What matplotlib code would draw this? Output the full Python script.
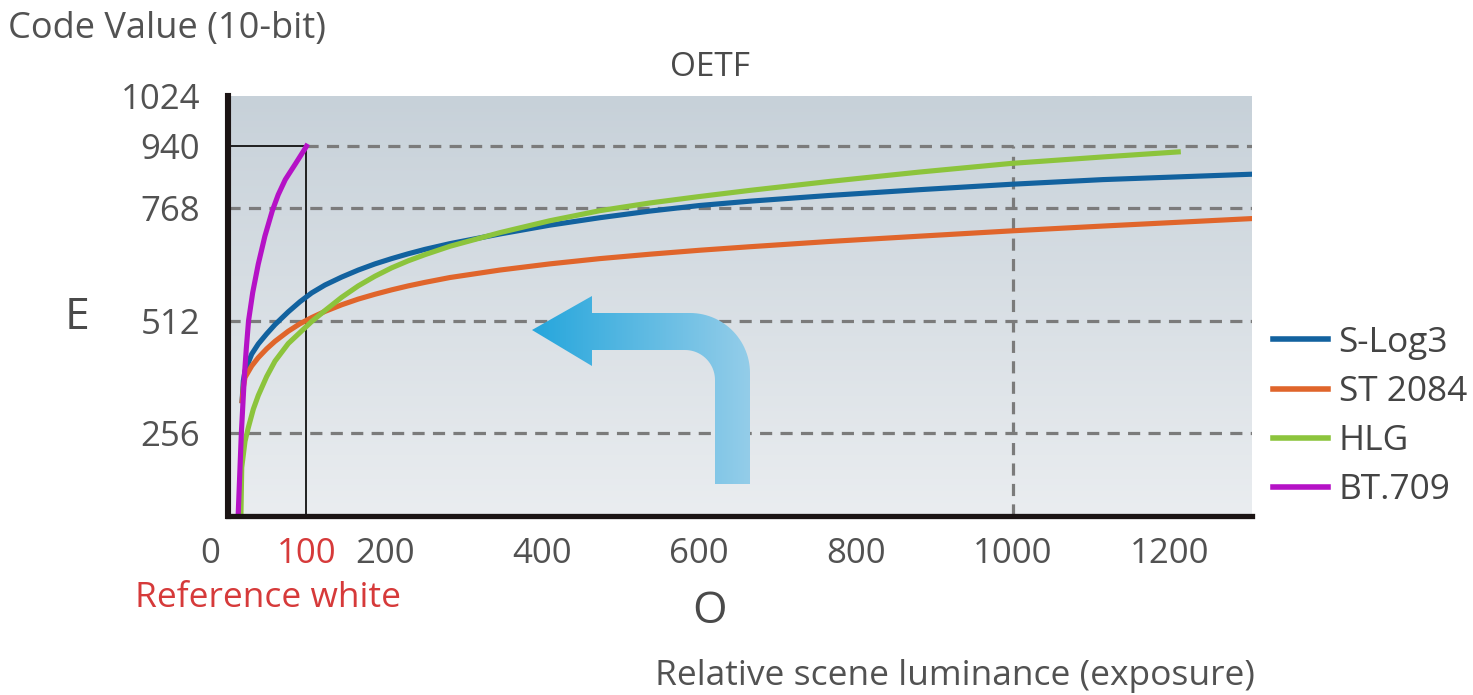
import numpy as np
import matplotlib
matplotlib.use("Agg")
import matplotlib.pyplot as plt
from matplotlib.path import Path
from matplotlib.patches import PathPatch
from matplotlib.transforms import ScaledTranslation

plt.rcParams['font.family'] = ['Open Sans', 'DejaVu Sans']

# ---------------- data ----------------
slog3_x = [18, 19.5, 21.7, 30.2, 38.6, 49.3, 59.9, 76.8, 91.7, 106.6, 123.6, 144.8, 166, 187.3,
           208.5, 229.7, 251, 282.8, 346.5, 410, 474, 537.6, 601, 665, 767, 881.5, 998, 1115, 1305]
slog3_y = [330, 375, 398, 436, 459, 482, 503, 532, 555, 575, 593, 611, 627, 641,
           653, 664, 674, 687, 709, 729, 746, 761, 775, 787, 803, 819, 834, 847, 862]

st2084_x = [18, 19.5, 21.7, 30.2, 38.6, 49.3, 59.9, 76.8, 91.7, 106.6, 123.6, 144.8, 166, 187.3,
            208.5, 229.7, 251, 282.8, 346.5, 410, 474, 537.6, 601, 665, 767, 881.5, 998, 1115, 1305]
st2084_y = [330, 360, 383, 409, 428, 448, 465, 488, 505, 519, 533, 548, 561, 572,
            582, 591, 599, 610, 627, 641, 653, 663, 672, 680, 692, 704, 716, 727, 744]

hlg_x = [16.5, 17.5, 21.7, 25.9, 32.3, 38.6, 49.3, 59.9, 76.8, 91.7, 106.6, 123.6, 144.8, 166,
         187.3, 208.5, 229.7, 251, 282.8, 346.5, 410, 474, 537.6, 601, 665, 767, 881.5, 998, 1115, 1211]
hlg_y = [72, 178, 238, 269, 311, 342, 385, 420, 460, 485, 510, 535, 565, 591,
         613, 632, 648, 662, 681, 712, 739, 762, 782, 800, 817, 842, 868, 892, 910, 924]

bt709_x = [13, 15.3, 17, 20.8, 23.3, 26.2, 31.5, 38.5, 47, 56.5, 64, 73, 86, 97, 100]
bt709_y = [72, 178, 256, 384, 448, 512, 576, 640, 704, 762, 805, 847, 891, 929, 940]

series_names = ['S-Log3', 'ST 2084', 'HLG', 'BT.709']
series_colors = ['#12629f', '#e0652b', '#8cc43c', '#b512c6']

x_ticks = [0, 100, 200, 400, 600, 800, 1000, 1200]
y_ticks = [256, 512, 768, 940, 1024]
ref_white = 100
ref_code = 940
grid_x = 1000

# ---------------- figure ----------------
W, H = 1473, 695
fig = plt.figure(figsize=(W / 100, H / 100), dpi=100)
AX_L, AX_R, AX_T, AX_B = 228, 1252, 96, 516
ax = fig.add_axes([AX_L / W, 1 - AX_B / H, (AX_R - AX_L) / W, (AX_B - AX_T) / H])

# non-uniform vertical scale (top part of the original is compressed)
T = np.array([-1000.0, 768.0, 940.0, 2000.0])
D = np.array([-1000.0, 768.0, 908.6, 908.6 + 1060 * 1.357])
ax.set_yscale('function', functions=(lambda v: np.interp(v, T, D),
                                     lambda d: np.interp(d, D, T)))
ax.set_xlim(0, 1305)
ax.set_ylim(68, 1024)

# background gradient
grad = np.linspace(0, 1, 256).reshape(-1, 1)
top_c = np.array([0xc7, 0xd1, 0xd9]) / 255
bot_c = np.array([0xea, 0xed, 0xf0]) / 255
img = top_c[None, :] * (1 - grad[:, :, None]) + bot_c[None, :] * grad[:, :, None]
img = img.reshape(256, 1, 3)
ax.imshow(img, extent=[0, 1, 0, 1], transform=ax.transAxes, aspect='auto', zorder=0)

# gridlines
gkw = dict(color='#7b7b7b', lw=2.3, linestyle=(0, (3.8, 2.6)), zorder=1)
for yv in [256, 512, 768]:
    ax.axhline(yv, **gkw)
ax.plot([ref_white, 1305], [ref_code, ref_code], **gkw)
ax.plot([grid_x, grid_x], [68, ref_code], **gkw)

# reference white box
ax.plot([0, ref_white, ref_white], [ref_code, ref_code, 68], color='#111111', lw=1.3, zorder=2)

# curves
for xs, ys, name, c in zip([slog3_x, st2084_x, hlg_x, bt709_x],
                           [slog3_y, st2084_y, hlg_y, bt709_y],
                           series_names, series_colors):
    ax.plot(xs, ys, color=c, lw=3.7, label=name, zorder=3, solid_joinstyle='round')

# arrow (decoration, in pixel -> axes fraction)
def arc(cx, cy, r, a0, a1, n=30):
    a = np.radians(np.linspace(a0, a1, n))
    return [(cx + r * np.cos(t), cy - r * np.sin(t)) for t in a]

pts = [(532, 330), (592, 296), (592, 313), (690, 313)]
pts += arc(690, 373, 60, 90, 0)
pts += [(750, 484), (715, 484), (715, 380)]
pts += arc(685, 380, 30, 0, 90)
pts += [(592, 350), (592, 366), (532, 330)]
pts = np.array(pts, dtype=float)
axpts = np.column_stack([(pts[:, 0] - AX_L) / (AX_R - AX_L), (AX_B - pts[:, 1]) / (AX_B - AX_T)])
codes = [Path.MOVETO] + [Path.LINETO] * (len(axpts) - 2) + [Path.CLOSEPOLY]
arrow_path = Path(axpts, codes)
patch = PathPatch(arrow_path, transform=ax.transAxes, facecolor='none', edgecolor='none', zorder=4)
ax.add_patch(patch)
gx = np.linspace(0, 1, 256).reshape(1, -1)
c0 = np.array([0x25, 0xa6, 0xdc]) / 255
c1 = np.array([0x94, 0xcd, 0xe9]) / 255
aimg = c0[None, None, :] * (1 - gx[:, :, None]) + c1[None, None, :] * gx[:, :, None]
ext = [axpts[:, 0].min(), axpts[:, 0].max(), axpts[:, 1].min(), axpts[:, 1].max()]
im = ax.imshow(aimg, extent=ext, transform=ax.transAxes, aspect='auto', zorder=4)
im.set_clip_path(patch)

# spines & ticks
for s in ['top', 'right']:
    ax.spines[s].set_visible(False)
ax.spines['left'].set_linewidth(4.4)
ax.spines['bottom'].set_linewidth(3.8)
ax.spines['left'].set_color('#1b1414')
ax.spines['bottom'].set_color('#1b1414')
ax.spines['left'].set_zorder(5)
ax.spines['bottom'].set_zorder(5)

TXT = '#525252'
ax.set_xticks(x_ticks)
ax.set_xticklabels([str(v) for v in x_ticks])
ax.set_yticks(y_ticks)
ax.set_yticklabels([str(v) for v in y_ticks])
ax.tick_params(axis='both', length=0, labelsize=25, labelcolor=TXT)
ax.tick_params(axis='x', pad=15)
ax.tick_params(axis='y', pad=20)
xl = ax.get_xticklabels()
xl[1].set_color('#d63a3a')
xl[0].set_transform(xl[0].get_transform() + ScaledTranslation(-0.18, 0, fig.dpi_scale_trans))

# texts
fig.text(8 / W, 1 - 29 / H, 'Code Value (10-bit)', fontsize=26, color=TXT, ha='left', va='center')
fig.text(710 / W, 1 - 67 / H, 'OETF', fontsize=24, color='#4a4a4a', ha='center', va='center')
fig.text(77 / W, 1 - 318 / H, 'E', fontsize=32, color='#4a4a4a', ha='center', va='center')
fig.text(710 / W, 1 - 612 / H, 'O', fontsize=32, color='#4a4a4a', ha='center', va='center')
fig.text(268 / W, 1 - 598 / H, 'Reference white', fontsize=25.5, color='#d63a3a', ha='center', va='center')
fig.text(955 / W, 1 - 676 / H, 'Relative scene luminance (exposure)', fontsize=25.5, color=TXT,
         ha='center', va='center')

leg = fig.legend(loc='center left', bbox_to_anchor=(1273 / W, 1 - 416.5 / H), frameon=False,
                 fontsize=25.4, handlelength=1.56, handletextpad=0.3, labelspacing=0.43,
                 borderpad=0, borderaxespad=0)
for t in leg.get_texts():
    t.set_color('#444444')
for l in leg.get_lines():
    l.set_linewidth(4)

fig.savefig('out.png', dpi=100)
